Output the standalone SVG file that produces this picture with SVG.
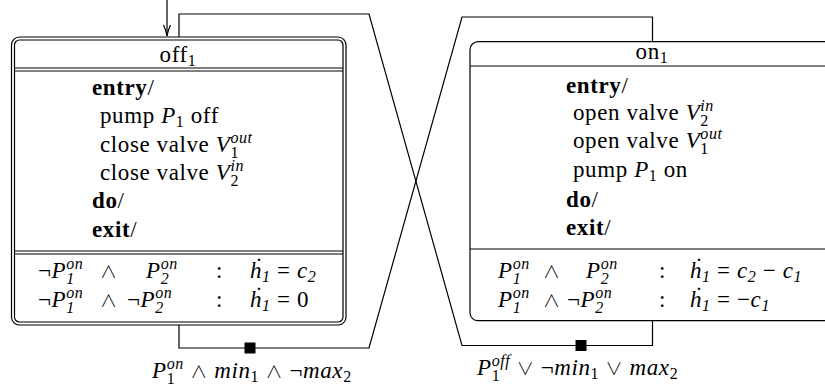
<svg xmlns="http://www.w3.org/2000/svg" width="825" height="388" viewBox="0 0 825 388">
<style>
.t{font-family:"Liberation Serif","DejaVu Serif",serif;font-size:23px;letter-spacing:0.6px;fill:#000}
.m{text-anchor:middle}
.i{font-style:italic}
.b{font-weight:bold}
.s{font-size:16px}
.op{font-family:"Noto Sans CJK JP","DejaVu Sans",sans-serif;font-weight:300;font-size:17px}
.ln{stroke:#000;stroke-width:1.2;fill:none}
.box{stroke:#000;stroke-width:1.2;fill:#fff}
</style>
<g id="connectors">
<line class="ln" x1="167" y1="0" x2="167" y2="36"/>
<path d="M163.5,25 Q166,30 167,36 Q168,30 170.5,25" class="ln"/>
<path class="ln" d="M179,325 V348 H369 L462,17 H652.5 V41.7"/>
<path class="ln" d="M652.5,321 V345.5 H462 L369,14 H179 V37"/>
<rect x="244.5" y="342.5" width="11" height="11" fill="#000"/>
<rect x="575.5" y="340" width="11" height="11" fill="#000"/>
<text class="t" x="152" y="378"><tspan class="i">P</tspan><tspan class="s" dy="6">1</tspan><tspan class="s i" dx="-8.6" dy="-15">on</tspan><tspan dy="9"> </tspan><tspan class="op">∧</tspan><tspan> </tspan><tspan class="i">min</tspan><tspan class="s" dy="4">1</tspan><tspan dy="-4"> </tspan><tspan class="op">∧</tspan><tspan> ¬</tspan><tspan class="i">max</tspan><tspan class="s" dy="4">2</tspan></text>
<text class="t" x="477" y="375"><tspan class="i">P</tspan><tspan class="s" dy="6">1</tspan><tspan class="s i" dx="-8.6" dy="-15">off</tspan><tspan dy="9"> </tspan><tspan class="op">∨</tspan><tspan> ¬</tspan><tspan class="i">min</tspan><tspan class="s" dy="4">1</tspan><tspan dy="-4"> </tspan><tspan class="op">∨</tspan><tspan> </tspan><tspan class="i">max</tspan><tspan class="s" dy="4">2</tspan></text>
</g>
<g id="off1">
<rect class="box" x="11.5" y="37" width="334.5" height="288" rx="8"/>
<rect class="ln" x="14.5" y="40" width="328.5" height="282" rx="5"/>
<path class="ln" d="M14.5,68 H343 M14.5,71 H343 M14.5,251 H343 M14.5,254 H343"/>
<text class="t m" x="178" y="62">off<tspan class="s" dy="4">1</tspan></text>
<text class="t" x="92" y="95"><tspan class="b">entry</tspan>/</text>
<text class="t" x="100" y="123">pump <tspan class="i">P</tspan><tspan class="s" dy="4">1</tspan><tspan dy="-4"> off</tspan></text>
<text class="t" x="100" y="152">close valve <tspan class="i">V</tspan><tspan class="s" dy="6">1</tspan><tspan class="s i" dx="-8.6" dy="-15">out</tspan></text>
<text class="t" x="100" y="180">close valve <tspan class="i">V</tspan><tspan class="s" dy="6">2</tspan><tspan class="s i" dx="-8.6" dy="-15">in</tspan></text>
<text class="t" x="92" y="208"><tspan class="b">do</tspan>/</text>
<text class="t" x="92" y="237"><tspan class="b">exit</tspan>/</text>
<text class="t" x="38" y="278">¬<tspan class="i">P</tspan><tspan class="s i" dy="6">1</tspan><tspan class="s i" dx="-8.6" dy="-15">on</tspan></text>
<text class="t op" x="100" y="278">∧</text>
<text class="t" x="146" y="278"><tspan class="i">P</tspan><tspan class="s i" dy="6">2</tspan><tspan class="s i" dx="-8.6" dy="-15">on</tspan></text>
<text class="t" x="216" y="278">:</text>
<text class="t" x="250" y="278"><tspan class="i">ḣ</tspan><tspan class="s i" dy="4">1</tspan><tspan dy="-4"> = </tspan><tspan class="i">c</tspan><tspan class="s i" dy="4">2</tspan></text>
<text class="t" x="38" y="307">¬<tspan class="i">P</tspan><tspan class="s i" dy="6">1</tspan><tspan class="s i" dx="-8.6" dy="-15">on</tspan></text>
<text class="t op" x="100" y="307">∧</text>
<text class="t" x="127" y="307">¬<tspan class="i">P</tspan><tspan class="s i" dy="6">2</tspan><tspan class="s i" dx="-8.6" dy="-15">on</tspan></text>
<text class="t" x="216" y="307">:</text>
<text class="t" x="250" y="307"><tspan class="i">ḣ</tspan><tspan class="s i" dy="4">1</tspan><tspan dy="-4"> = 0</tspan></text>
</g>
<g id="on1">
<rect class="box" x="470" y="41.7" width="365" height="279" rx="8"/>
<path class="ln" d="M470,66 H835 M470,249 H835"/>
<text class="t m" x="652" y="59">on<tspan class="s" dy="4">1</tspan></text>
<text class="t" x="566" y="93"><tspan class="b">entry</tspan>/</text>
<text class="t" x="573" y="120">open valve <tspan class="i">V</tspan><tspan class="s" dy="6">2</tspan><tspan class="s i" dx="-8.6" dy="-15">in</tspan></text>
<text class="t" x="573" y="148">open valve <tspan class="i">V</tspan><tspan class="s" dy="6">1</tspan><tspan class="s i" dx="-8.6" dy="-15">out</tspan></text>
<text class="t" x="573" y="177">pump <tspan class="i">P</tspan><tspan class="s" dy="4">1</tspan><tspan dy="-4"> on</tspan></text>
<text class="t" x="566" y="207"><tspan class="b">do</tspan>/</text>
<text class="t" x="566" y="235"><tspan class="b">exit</tspan>/</text>
<text class="t" x="498" y="278"><tspan class="i">P</tspan><tspan class="s i" dy="6">1</tspan><tspan class="s i" dx="-8.6" dy="-15">on</tspan></text>
<text class="t op" x="543" y="278">∧</text>
<text class="t" x="586" y="278"><tspan class="i">P</tspan><tspan class="s i" dy="6">2</tspan><tspan class="s i" dx="-8.6" dy="-15">on</tspan></text>
<text class="t" x="659" y="278">:</text>
<text class="t" x="690" y="278"><tspan class="i">ḣ</tspan><tspan class="s i" dy="4">1</tspan><tspan dy="-4"> = </tspan><tspan class="i">c</tspan><tspan class="s i" dy="4">2</tspan><tspan dy="-4"> − </tspan><tspan class="i">c</tspan><tspan class="s i" dy="4">1</tspan></text>
<text class="t" x="498" y="307"><tspan class="i">P</tspan><tspan class="s i" dy="6">1</tspan><tspan class="s i" dx="-8.6" dy="-15">on</tspan></text>
<text class="t op" x="543" y="307">∧</text>
<text class="t" x="567" y="307">¬<tspan class="i">P</tspan><tspan class="s i" dy="6">2</tspan><tspan class="s i" dx="-8.6" dy="-15">on</tspan></text>
<text class="t" x="659" y="307">:</text>
<text class="t" x="690" y="307"><tspan class="i">ḣ</tspan><tspan class="s i" dy="4">1</tspan><tspan dy="-4"> = −</tspan><tspan class="i">c</tspan><tspan class="s i" dy="4">1</tspan></text>
</g>
</svg>
